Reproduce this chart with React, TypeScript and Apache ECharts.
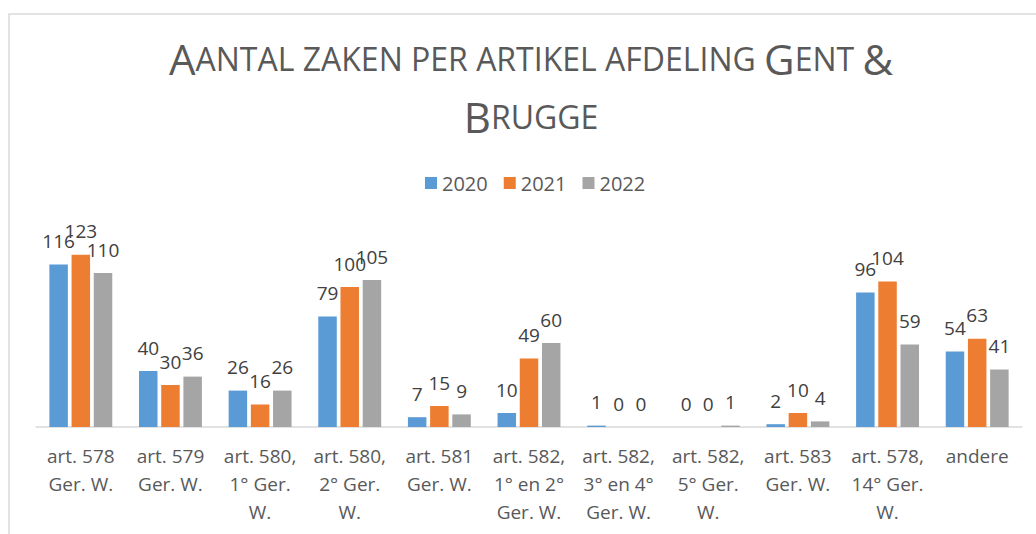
import React, { useEffect, useRef } from "react";
import * as echarts from "echarts";

const categories = [
  "art. 578 Ger. W.",
  "art. 579 Ger. W.",
  "art. 580, 1° Ger. W.",
  "art. 580, 2° Ger. W.",
  "art. 581 Ger. W.",
  "art. 582, 1° en 2° Ger. W.",
  "art. 582, 3° en 4° Ger. W.",
  "art. 582, 5° Ger. W.",
  "art. 583 Ger. W.",
  "art. 578, 14° Ger. W.",
  "andere",
];
const seriesNames = ["2020", "2021", "2022"];
const values2020 = [116, 40, 26, 79, 7, 10, 1, 0, 2, 96, 54];
const values2021 = [123, 30, 16, 100, 15, 49, 0, 0, 10, 104, 63];
const values2022 = [110, 36, 26, 105, 9, 60, 0, 1, 4, 59, 41];
const colors = ["#5B9BD5", "#ED7D31", "#A5A5A5"];

function wrap(s: string, max: number): string {
  const words = s.split(" ");
  const lines: string[] = [];
  let cur = "";
  for (const w of words) {
    if (!cur) cur = w;
    else if ((cur + " " + w).length <= max) cur = cur + " " + w;
    else {
      lines.push(cur);
      cur = w;
    }
  }
  if (cur) lines.push(cur);
  return lines.join("\n");
}

export default function App() {
  const ref = useRef<HTMLDivElement>(null);
  useEffect(() => {
    if (!ref.current) return;
    const chart = echarts.init(ref.current, null, { renderer: "svg" });
    const font = "'Open Sans', sans-serif";
    const labelStyle = {
      show: true,
      position: "top" as const,
      distance: 14,
      color: "#404040",
      fontSize: 19,
      fontFamily: font,
    };
    const data = [values2020, values2021, values2022];
    chart.setOption({
      animation: false,
      backgroundColor: "#ffffff",
      legend: {
        data: seriesNames,
        top: 168,
        left: 420,
        itemWidth: 12,
        itemHeight: 12,
        itemGap: 16,
        icon: "rect",
        textStyle: { color: "#595959", fontSize: 20, fontFamily: font },
      },
      graphic: [
        {
          type: "rect",
          shape: { x: 9, y: 14, width: 1100, height: 600 },
          style: { fill: "none", stroke: "#d9d9d9", lineWidth: 1.5 },
          silent: true,
        },
        {
          type: "text",
          x: 531,
          y: 29,
          silent: true,
          style: {
            text: "{b|A}{s|ANTAL ZAKEN PER ARTIKEL AFDELING }{b|G}{s|ENT }{b|&}\n{b|B}{s|RUGGE}",
            align: "center",
            verticalAlign: "top",
            rich: {
              b: { fontSize: 42, fontFamily: font, fill: "#595959", lineHeight: 58, fontWeight: "normal" },
              s: { fontSize: 32, fontFamily: font, fill: "#595959", lineHeight: 58, fontWeight: "normal" },
            },
          },
        },
      ],
      grid: { left: 36, right: 14, top: 231, bottom: 107, containLabel: false },
      xAxis: {
        type: "category",
        data: categories,
        axisTick: { show: false },
        axisLine: { lineStyle: { color: "#d9d9d9", width: 1.5 } },
        axisLabel: {
          interval: 0,
          margin: 15,
          color: "#595959",
          fontSize: 19,
          lineHeight: 28,
          fontFamily: font,
          formatter: (v: string) => wrap(v, 9),
        },
      },
      yAxis: {
        type: "value",
        min: 0,
        max: 140,
        show: false,
        splitLine: { show: false },
      },
      series: seriesNames.map((name, i) => ({
        name,
        type: "bar",
        data: data[i],
        barWidth: 18.5,
        barGap: "20%",
        itemStyle: { color: colors[i] },
        label: labelStyle,
      })),
    });
    return () => chart.dispose();
  }, []);
  return (
    <div
      ref={ref}
      style={{ position: "fixed", left: 0, top: 0, width: 1036, height: 534 }}
    />
  );
}
